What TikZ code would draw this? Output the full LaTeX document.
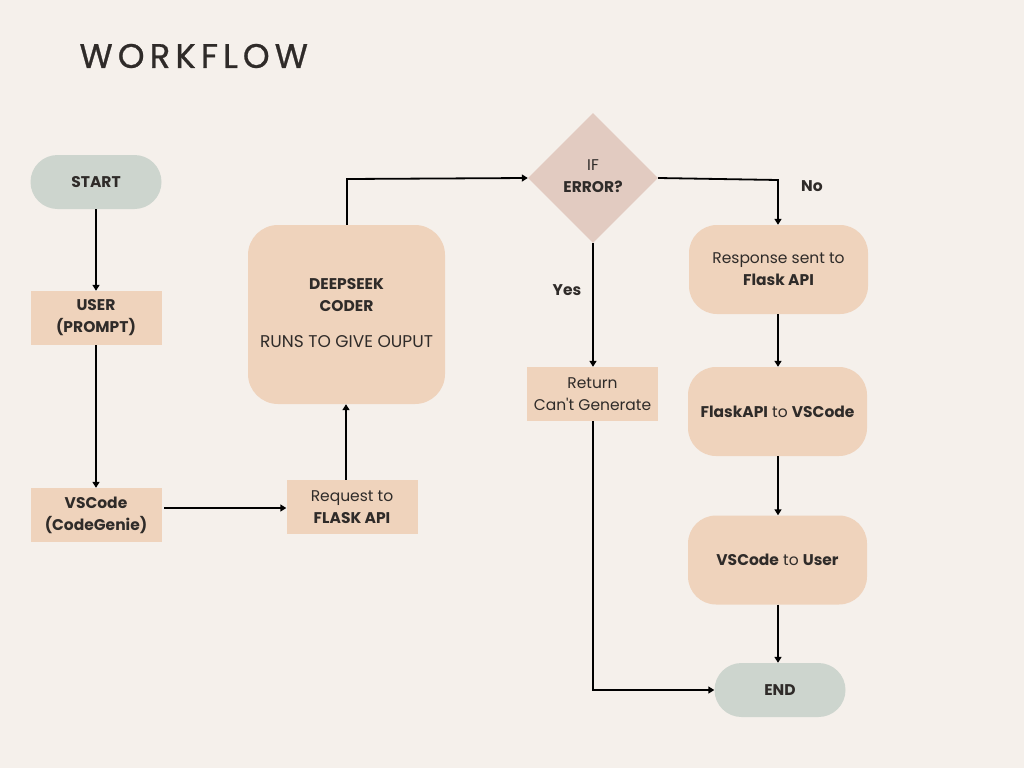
\documentclass[tikz,border=0pt]{standalone}
\usepackage{fontspec}
\setmainfont{Poppins}
\newfontfamily\titlefont[LetterSpace=15,FakeBold=0.8]{Poppins}
\usetikzlibrary{arrows.meta,shapes.geometric}
\definecolor{bg}{HTML}{F5F0EB}
\definecolor{peach}{HTML}{EFD3BC}
\definecolor{sage}{HTML}{CDD5CE}
\definecolor{rose}{HTML}{E2CBC1}
\definecolor{ink}{HTML}{2F2B29}
\tikzset{
  txt/.style={font=\fontsize{15.5}{22}\selectfont, text=ink, align=center},
  pill/.style={txt, fill=sage, rounded corners=27pt, minimum width=131pt, minimum height=54pt, inner sep=0pt},
  sq/.style={txt, fill=peach, minimum width=131pt, minimum height=54pt, inner sep=0pt},
  rbox/.style={txt, fill=peach, rounded corners=28pt, minimum width=179pt, minimum height=89pt, inner sep=0pt},
  dia/.style={txt, fill=rose, diamond, minimum width=130pt, minimum height=130pt, inner sep=0pt},
  arr/.style={line width=1.8pt, black, -{Triangle[length=6pt,width=7pt]}},
  lbl/.style={txt, font=\fontsize{15.5}{22}\selectfont\bfseries}
}
\begin{document}
\begin{tikzpicture}[x=1pt,y=-1pt]
\fill[bg] (0,0) rectangle (1024,768);
\useasboundingbox (0,0) rectangle (1024,768);
\node[anchor=west, text=ink, font=\titlefont\fontsize{34}{36}\selectfont] (title) at (76,56) {WORKFLOW};

\node[pill] (start) at (96,182) {\bfseries START};
\node[sq] (user) at (96,318) {\bfseries USER\\\bfseries (PROMPT)};
\node[sq] (vsc) at (96,515) {\bfseries VSCode\\\bfseries (CodeGenie)};
\node[sq] (req) at (352,507) {Request to\\\bfseries FLASK API};
\node[txt, fill=peach, rounded corners=30pt, minimum width=197pt, minimum height=179pt, inner sep=0pt] (ds) at (346.5,314.5) {};
\node[txt] (dstext) at (346.5,295) {\bfseries DEEPSEEK\\\bfseries CODER};
\node[txt, font=\fontsize{17}{22}\selectfont] (dsrun) at (346.5,342) {RUNS TO GIVE OUPUT};
\node[dia] (err) at (593,178) {};
\node[txt] (errtext) at (593,176) {IF\\\bfseries ERROR?};
\node[sq] (ret) at (592.5,394) {Return\\Can\textquotesingle t Generate};
\node[rbox] (resp) at (778.5,269.5) {Response sent to\\\bfseries Flask API};
\node[rbox] (fv) at (777.5,411.5) {\textbf{FlaskAPI} to \textbf{VSCode}};
\node[rbox] (vu) at (777.5,560) {\textbf{VSCode} to \textbf{User}};
\node[pill] (end) at (780,690) {\bfseries END};

\coordinate (c1) at (347,179);
\coordinate (c2) at (778,180);
\coordinate (c3) at (593,690);

\draw[arr] (start.south) -- (user.north);
\draw[arr] (user.south) -- (vsc.north);
\draw[arr] (164,508) -- (req.west |- 0,508);
\draw[arr] (req.north -| 346,0) -- (ds.south -| 346,0);
\draw[arr] (ds.north -| 347,0) -- (c1) -- (err.west);
\draw[arr] (err.east) -- (c2) -- (resp.north -| c2);
\draw[arr] (err.south) -- (ret.north -| err.south);
\draw[arr] (ret.south -| 593,0) -- (c3) -- (end.west);
\draw[arr] (resp.south -| 778,0) -- (fv.north -| 778,0);
\draw[arr] (fv.south -| 778,0) -- (vu.north -| 778,0);
\draw[arr] (vu.south -| 778,0) -- (end.north -| 778,0);

\node[lbl] (no) at (812,186) {No};
\node[lbl] (yes) at (567,290) {Yes};
\end{tikzpicture}
\end{document}
